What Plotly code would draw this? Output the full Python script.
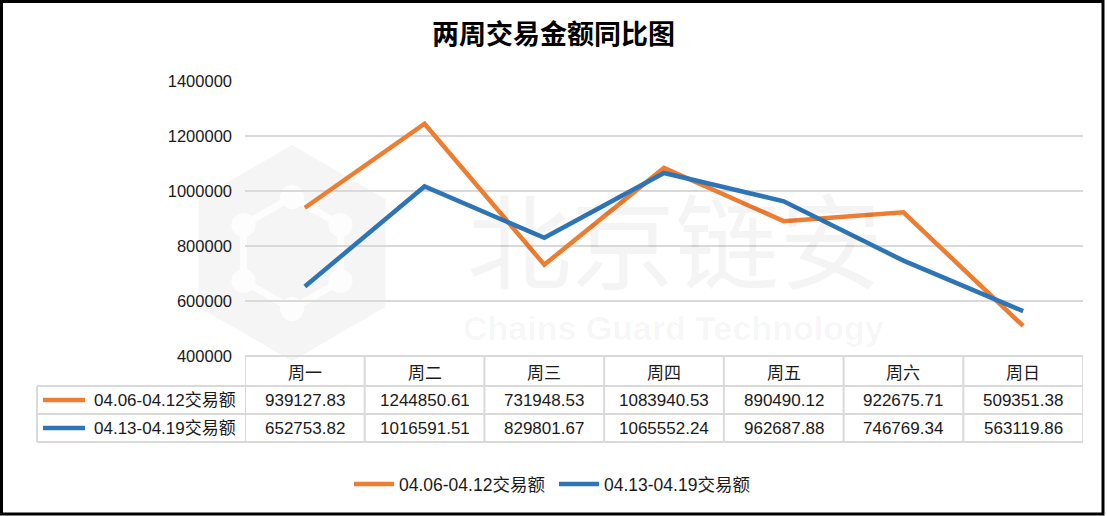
import math
import plotly.graph_objects as go

# ---------------- data ----------------
days = ["周一", "周二", "周三", "周四", "周五", "周六", "周日"]
series_names = ["04.06-04.12交易额", "04.13-04.19交易额"]
week1 = [939127.83, 1244850.61, 731948.53, 1083940.53, 890490.12, 922675.71, 509351.38]
week2 = [652753.82, 1016591.51, 829801.67, 1065552.24, 962687.88, 746769.34, 563119.86]
week1_text = ["939127.83", "1244850.61", "731948.53", "1083940.53", "890490.12", "922675.71", "509351.38"]
week2_text = ["652753.82", "1016591.51", "829801.67", "1065552.24", "962687.88", "746769.34", "563119.86"]
y_ticks = [400000, 600000, 800000, 1000000, 1200000, 1400000]
title_text = "两周交易金额同比图"

colors = ["#ED7D31", "#2E75B6"]

# ---------------- layout geometry (pixels) ----------------
W, H = 1107, 516
L, R, T, B = 245, 1083, 81, 356
PW, PH = R - L, B - T


def px(xp):
    return (xp - L) / PW


def py(yp):
    return (B - yp) / PH


num_font = "Liberation Sans, Arial, sans-serif"
cjk_font = "Noto Sans CJK SC, sans-serif"
mix_font = "Liberation Sans, Noto Sans CJK SC, sans-serif"
txt_col = "#1a1a1a"
grid_col = "#d9d9d9"

fig = go.Figure()
for name, vals, col in zip(series_names, [week1, week2], colors):
    fig.add_trace(go.Scatter(
        x=days, y=vals, name=name, mode="lines",
        line=dict(color=col, width=4.5),
        hovertemplate="%{x}: %{y}<extra>" + name + "</extra>",
    ))

shapes = []
annotations = []

# ---- watermark (decoration) ----
cx, cy, r = 292, 253, 108
hex_pts = []
for k in range(6):
    a = math.radians(90 + 60 * k)
    hex_pts.append((cx + r * math.cos(a), cy - r * math.sin(a)))
path = "M " + " L ".join(f"{px(x):.4f},{py(y):.4f}" for x, y in hex_pts) + " Z"
shapes.append(dict(type="path", xref="paper", yref="paper", path=path,
                   fillcolor="#f5f5f5", line=dict(width=0), layer="below"))
r2 = 56
inner = []
for k in range(6):
    a = math.radians(90 + 60 * k)
    inner.append((cx + r2 * math.cos(a), cy - r2 * math.sin(a)))
path2 = "M " + " L ".join(f"{px(x):.4f},{py(y):.4f}" for x, y in inner) + " Z"
shapes.append(dict(type="path", xref="paper", yref="paper", path=path2,
                   fillcolor="rgba(0,0,0,0)", line=dict(width=7, color="#fdfdfd"), layer="below"))
for x, y in inner:
    shapes.append(dict(type="circle", xref="paper", yref="paper",
                       x0=px(x - 12), x1=px(x + 12), y0=py(y + 12), y1=py(y - 12),
                       fillcolor="#fdfdfd", line=dict(width=0), layer="below"))
annotations.append(dict(text="北京链安", xref="paper", yref="paper",
                        x=px(675), y=py(236), showarrow=False,
                        font=dict(family=cjk_font, size=104, color="rgba(0,0,0,0.045)"),
                        xanchor="center", yanchor="middle"))
annotations.append(dict(text="<b>Chains Guard Technology</b>", xref="paper", yref="paper",
                        x=px(673), y=py(328), showarrow=False,
                        font=dict(family=num_font, size=34, color="rgba(0,0,0,0.04)"),
                        xanchor="center", yanchor="middle"))

# ---- data table under the plot ----
y_head_top, y_r1, y_r2, y_bot = B, 386, 414, 442
x_tab_left = 37
line_style = dict(color=grid_col, width=2)
# horizontal lines
shapes.append(dict(type="line", xref="paper", yref="paper", x0=0, x1=1,
                   y0=py(y_head_top), y1=py(y_head_top), line=line_style))
for yy in [y_r1, y_r2, y_bot]:
    shapes.append(dict(type="line", xref="paper", yref="paper", x0=px(x_tab_left), x1=1,
                       y0=py(yy), y1=py(yy), line=line_style))
# vertical lines between categories (through x axis scale)
for i in range(len(days) + 1):
    shapes.append(dict(type="line", xref="x", yref="paper", x0=i - 0.5, x1=i - 0.5,
                       y0=py(y_head_top), y1=py(y_bot), line=line_style))
shapes.append(dict(type="line", xref="paper", yref="paper", x0=px(x_tab_left), x1=px(x_tab_left),
                   y0=py(y_r1), y1=py(y_bot), line=line_style))

# header texts
for d in days:
    annotations.append(dict(text=d, xref="x", yref="paper", x=d, y=py(371),
                            showarrow=False, xanchor="center", yanchor="middle",
                            font=dict(family=cjk_font, size=17, color=txt_col)))
# row texts
for row_y, texts, name, col in [(400, week1_text, series_names[0], colors[0]),
                                (428, week2_text, series_names[1], colors[1])]:
    for d, t in zip(days, texts):
        annotations.append(dict(text=t, xref="x", yref="paper", x=d, y=py(row_y),
                                showarrow=False, xanchor="center", yanchor="middle",
                                font=dict(family=num_font, size=17, color=txt_col)))
    shapes.append(dict(type="line", xref="paper", yref="paper", x0=px(43), x1=px(85),
                       y0=py(row_y), y1=py(row_y), line=dict(color=col, width=4.5)))
    annotations.append(dict(text=name, xref="paper", yref="paper", x=px(92), y=py(row_y),
                            showarrow=False, xanchor="left", yanchor="middle",
                            font=dict(family=mix_font, size=17, color=txt_col)))

# outer frame
shapes.append(dict(type="rect", xref="paper", yref="paper",
                   x0=px(1.5), x1=px(1103), y0=py(1.5), y1=py(514),
                   line=dict(color="#000000", width=3), fillcolor="rgba(0,0,0,0)"))

fig.update_layout(
    width=W, height=H,
    margin=dict(l=L, r=W - R, t=T, b=H - B, pad=0),
    paper_bgcolor="#ffffff", plot_bgcolor="rgba(0,0,0,0)",
    title=dict(text="<b>" + title_text + "</b>", x=0.5, xanchor="center",
               y=1 - 35 / H, yanchor="middle", yref="container",
               font=dict(family=cjk_font, size=27, color="#000000")),
    xaxis=dict(type="category", categoryarray=days, range=[-0.5, len(days) - 0.5],
               showticklabels=False, showgrid=False, zeroline=False, showline=False,
               fixedrange=True),
    yaxis=dict(range=[y_ticks[0], y_ticks[-1]], tickvals=y_ticks,
               ticktext=[str(v) for v in y_ticks],
               showgrid=True, gridcolor=grid_col, gridwidth=2, zeroline=False,
               showline=False, ticks="", ticklabelstandoff=12,
               tickfont=dict(family=num_font, size=16.5, color=txt_col)),
    showlegend=True,
    legend=dict(orientation="h", x=px(349), xanchor="left", y=py(484), yanchor="middle",
                font=dict(family=mix_font, size=17.5, color=txt_col),
                bgcolor="rgba(0,0,0,0)", borderwidth=0, itemwidth=40,
                tracegroupgap=0, entrywidth=150, entrywidthmode="pixels"),
    shapes=shapes,
    annotations=annotations,
)

fig.write_html("out.html", config={"displayModeBar": False},
               post_script="document.body.style.margin='0px';")
